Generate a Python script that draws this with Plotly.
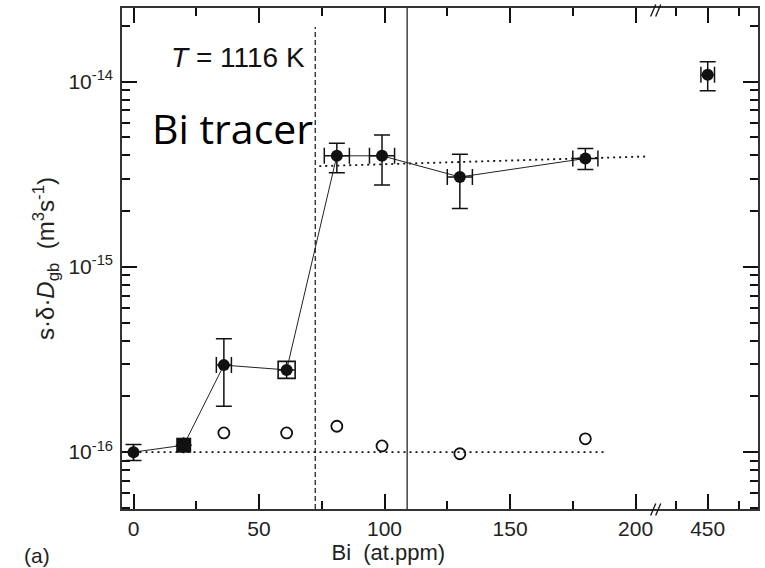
import plotly.graph_objects as go

# ---------------- data ----------------
bi_ppm = [0, 20, 36, 61, 81, 99, 130, 180]
D_gb = [1.0e-16, 1.09e-16, 2.95e-16, 2.78e-16, 3.98e-15, 3.98e-15, 3.06e-15, 3.85e-15]
D_err_plus = [0.1e-16, 0.0, 1.15e-16, 0.0, 0.68e-15, 1.17e-15, 1.0e-15, 0.51e-15]
D_err_minus = [0.1e-16, 0.0, 1.18e-16, 0.0, 0.76e-15, 1.21e-15, 0.99e-15, 0.49e-15]
bi_err = [0, 0, 3, 0, 5, 5, 5, 5]

square_ppm = [20]
square_D = [1.09e-16]
open_square_ppm = [61]
open_square_D = [2.78e-16]

high_ppm = [450]
high_D = [1.09e-14]
high_err_plus = [0.19e-14]
high_err_minus = [0.196e-14]
high_bi_err = [2.7]

open_ppm = [36, 61, 81, 99, 130, 180]
open_D = [1.27e-16, 1.27e-16, 1.38e-16, 1.08e-16, 0.98e-16, 1.18e-16]

fit_low_ppm = [0, 188]
fit_low_D = [1.0e-16, 1.0e-16]
fit_high_ppm = [74, 205]
fit_high_D = [3.5e-15, 3.95e-15]

dashed_line_ppm = 72.4
solid_line_ppm = 109

x_ticks = [0, 50, 100, 150, 200]
x_minor = [25, 75, 125, 175]
x2_ticks = [450]
x2_minor = [437.5, 462.5]
y_ticks = [1e-16, 1e-15, 1e-14]
y_ticktext = ["10<sup>-16</sup>", "10<sup>-15</sup>", "10<sup>-14</sup>"]
y_minor = [k * 10.0 ** e for e in (-17, -16, -15, -14) for k in range(2, 10)]

# ---------------- figure ----------------
INK = "#111111"
AX = "#333333"
FONT = "Liberation Sans, Arial, sans-serif"

fig = go.Figure()

fig.add_trace(go.Scatter(x=fit_low_ppm, y=fit_low_D, mode="lines",
                         line=dict(color=INK, width=1.8, dash="2px,4px"),
                         hoverinfo="skip", showlegend=False))
fig.add_trace(go.Scatter(x=fit_high_ppm, y=fit_high_D, mode="lines",
                         line=dict(color=INK, width=1.8, dash="2px,4px"),
                         hoverinfo="skip", showlegend=False))
fig.add_trace(go.Scatter(x=bi_ppm, y=D_gb, mode="lines",
                         line=dict(color="#222222", width=1),
                         showlegend=False))
fig.add_trace(go.Scatter(x=open_ppm, y=open_D, mode="markers",
                         marker=dict(symbol="circle-open", size=11,
                                     color=INK, line=dict(width=1.8, color=INK)),
                         showlegend=False))
fig.add_trace(go.Scatter(x=square_ppm, y=square_D, mode="markers",
                         marker=dict(symbol="square", size=15, color=INK),
                         showlegend=False))
fig.add_trace(go.Scatter(x=open_square_ppm, y=open_square_D, mode="markers",
                         marker=dict(symbol="square-open", size=17, color=INK,
                                     line=dict(width=1.6, color=INK)),
                         showlegend=False))
fig.add_trace(go.Scatter(
    x=bi_ppm, y=D_gb, mode="markers",
    marker=dict(symbol="circle", size=12, color=INK),
    error_y=dict(type="data", array=D_err_plus, arrayminus=D_err_minus,
                 color=INK, thickness=1.5, width=8),
    error_x=dict(type="data", array=bi_err, color=INK, thickness=1.5, width=8),
    showlegend=False))
fig.add_trace(go.Scatter(
    x=high_ppm, y=high_D, mode="markers", xaxis="x2", yaxis="y2",
    marker=dict(symbol="circle", size=12, color=INK),
    error_y=dict(type="data", array=high_err_plus, arrayminus=high_err_minus,
                 color=INK, thickness=1.5, width=8),
    error_x=dict(type="data", array=high_bi_err, color=INK, thickness=1.5, width=8),
    showlegend=False))

# vertical markers
fig.add_shape(type="line", xref="x", yref="paper", x0=dashed_line_ppm, x1=dashed_line_ppm,
              y0=0, y1=0.962, line=dict(color=INK, width=1.2, dash="5px,3px"))
fig.add_shape(type="line", xref="x", yref="paper", x0=solid_line_ppm, x1=solid_line_ppm,
              y0=0, y1=1, line=dict(color=INK, width=1.2))

# axis break marks
for yb0, yb1 in ((-0.013, 0.011), (0.983, 1.007)):
    for xb in (0.8312, 0.8391):
        fig.add_shape(type="line", xref="paper", yref="paper",
                      x0=xb, x1=xb + 0.008, y0=yb0, y1=yb1,
                      line=dict(color=INK, width=1.3))

ax_common = dict(showline=True, linecolor=AX, linewidth=1.6, ticks="inside",
                 ticklen=15, tickwidth=1.5, tickcolor=INK, showgrid=False,
                 zeroline=False, automargin=False,
                 tickfont=dict(size=21, color="#222222", family=FONT))

fig.update_layout(
    template="none",
    width=765, height=568,
    margin=dict(l=122, r=7, t=8, b=59),
    paper_bgcolor="white", plot_bgcolor="white",
    font=dict(family=FONT, color="#222222"),
    xaxis=dict(domain=[0, 0.8375], range=[-4.58, 207.6], tickmode="array",
               tickvals=x_ticks, mirror="ticks", anchor="y",
               minor=dict(tickvals=x_minor, ticklen=8, tickwidth=1.5, tickcolor=INK,
                          ticks="inside", showgrid=False),
               title=dict(text="Bi  (at.ppm)", font=dict(size=22), standoff=2),
               **ax_common),
    xaxis2=dict(domain=[0.8375, 1], range=[428.9, 470.0], tickmode="array",
                tickvals=x2_ticks, mirror="ticks", anchor="y2",
                minor=dict(tickvals=x2_minor, ticklen=8, tickwidth=1.5, tickcolor=INK,
                           ticks="inside", showgrid=False),
                **ax_common),
    yaxis=dict(type="log", range=[-16.307, -13.602], tickmode="array",
               tickvals=y_ticks, ticktext=y_ticktext, anchor="x",
               minor=dict(tickvals=y_minor, ticklen=8, tickwidth=1.5, tickcolor=INK,
                          ticks="inside", showgrid=False),
               title=dict(text="s·δ·<i>D</i><sub>gb</sub>  (m<sup>3</sup>s<sup>-1</sup>)",
                          font=dict(size=24), standoff=7),
               ticklabelstandoff=3,
               **ax_common),
    yaxis2=dict(type="log", matches="y", anchor="x2", side="right",
                showticklabels=False, tickmode="array", tickvals=y_ticks,
                minor=dict(tickvals=y_minor, ticklen=8, tickwidth=1.5, tickcolor=INK,
                           ticks="inside", showgrid=False),
                **ax_common),
)

fig.add_annotation(xref="paper", yref="paper", x=0.1825, y=0.902, xanchor="center",
                   yanchor="middle", showarrow=False,
                   text="<i>T</i> = 1116 K", font=dict(size=28, color="#111111", family=FONT))
fig.add_annotation(xref="paper", yref="paper", x=0.173, y=0.76, xanchor="center",
                   yanchor="middle", showarrow=False,
                   text="Bi tracer", font=dict(size=41, color="black", family="Open Sans, sans-serif"))
fig.add_annotation(xref="paper", yref="paper", x=-0.158, y=-0.092, xanchor="left",
                   yanchor="middle", showarrow=False,
                   text="(a)", font=dict(size=21, color="#222222", family=FONT))

fig.write_html("out.html", config={"displayModeBar": False},
               post_script="document.body.style.margin='0';document.body.style.padding='0';")
